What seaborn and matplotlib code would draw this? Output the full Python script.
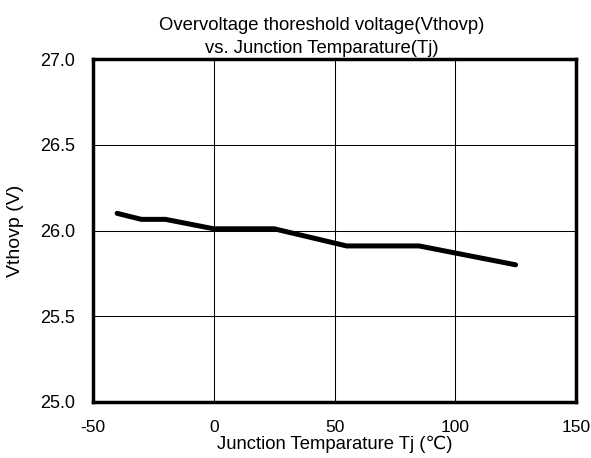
import matplotlib
matplotlib.use("Agg")
import matplotlib.pyplot as plt
import seaborn as sns
import pandas as pd

temps = [-40, -30, -20, 0, 25, 55, 85, 125]
vthovp = [26.10, 26.065, 26.065, 26.01, 26.01, 25.91, 25.91, 25.80]
xticks = [-50, 0, 50, 100, 150]
yticks = [25.0, 25.5, 26.0, 26.5, 27.0]

sns.set_theme(style="white")
plt.rcParams['font.family'] = ['Liberation Sans', 'DejaVu Sans']

fig = plt.figure(figsize=(5.91, 4.58), dpi=100)
ax = fig.add_axes([93/591, 1-402/458, (576-93)/591, (402-59)/458])

df = pd.DataFrame({"T": temps, "V": vthovp})
sns.lineplot(data=df, x="T", y="V", ax=ax, color="black", linewidth=3.6)

ax.set_xlim(-50, 150)
ax.set_ylim(25.0, 27.0)
ax.set_xticks(xticks)
ax.set_xticklabels([str(t) for t in xticks])
ax.set_yticks(yticks)
ax.set_yticklabels([f"{t:.1f}" for t in yticks])
ax.grid(True, color="black", linewidth=0.75)
ax.tick_params(axis="x", length=0, labelsize=12.5, colors="black", pad=13)
ax.tick_params(axis="y", length=0, labelsize=13, colors="black", pad=13)
for s in ax.spines.values():
    s.set_color("black")
    s.set_linewidth(2.5)
    s.set_visible(True)

ax.set_title("Overvoltage thoreshold voltage(Vthovp)\nvs. Junction Temparature(Tj)",
             fontsize=13.3, color="black", pad=4.5, linespacing=1.45, x=0.474)
ax.set_xlabel("Junction Temparature Tj (\u2103)", fontsize=13.3, color="black")
ax.xaxis.set_label_coords(0.5, (402-436)/343)
ax.set_ylabel("Vthovp (V)", fontsize=14, color="black")
ax.yaxis.set_label_coords((24-93)/483, 0.5)

fig.savefig("out.png", dpi=100, facecolor="white")
